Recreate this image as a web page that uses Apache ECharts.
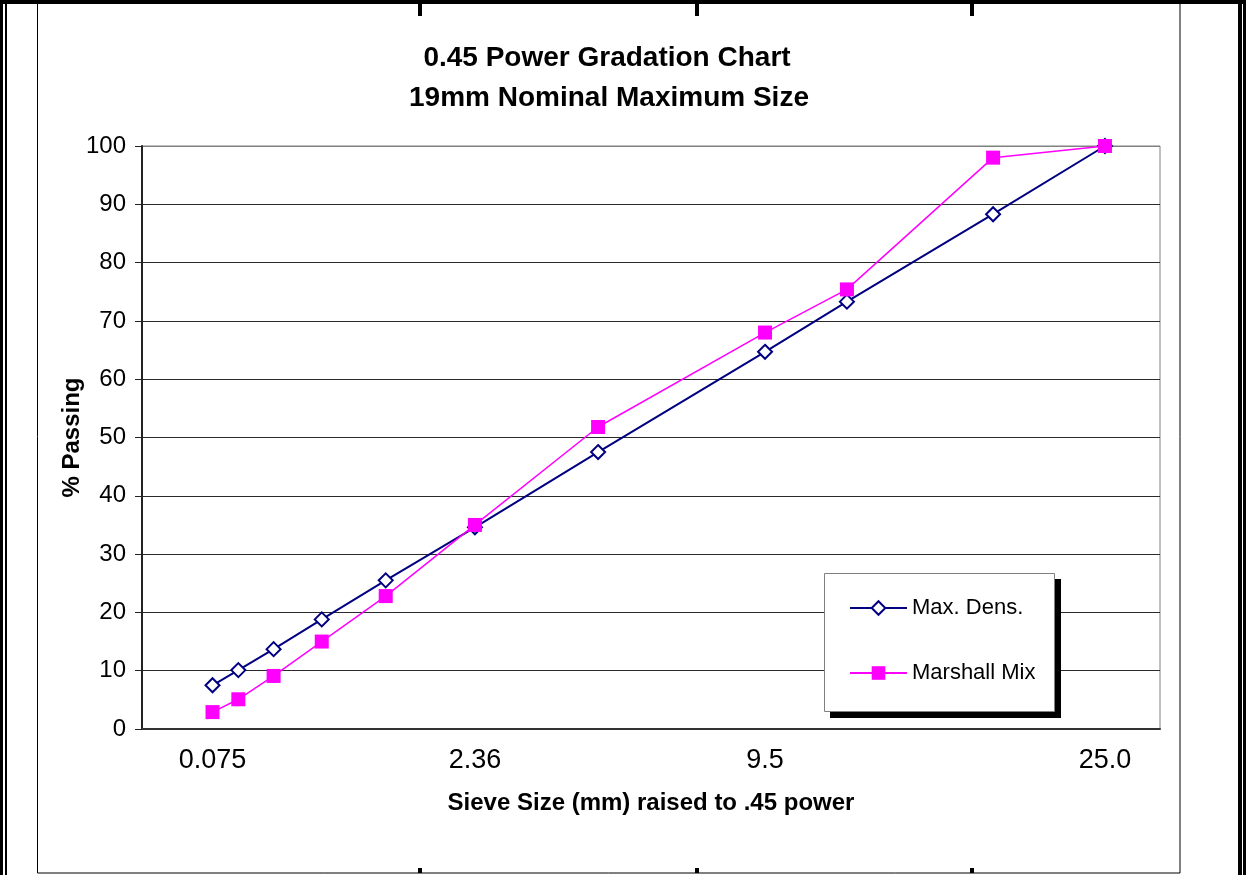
<!DOCTYPE html>
<html><head><meta charset="utf-8">
<script src="https://cdn.jsdelivr.net/npm/echarts@6/dist/echarts.min.js"></script>
<style>html,body{margin:0;padding:0;background:#fff}#c{width:1246px;height:875px}</style>
</head><body><div id="c"></div>
<script>
// ---- data ----
const sieveSizes = [0.075, 0.15, 0.3, 0.6, 1.18, 2.36, 4.75, 9.5, 12.5, 19, 25];
const maxDensity = [7.5, 10.1, 13.7, 18.8, 25.5, 34.6, 47.5, 64.7, 73.3, 88.3, 100];
const marshallMix = [2.9, 5.1, 9.1, 15.0, 22.8, 35.0, 51.8, 68.0, 75.4, 98.0, 100];
const xTickSizes = [0.075, 2.36, 9.5, 25];
const xTickLabels = ['0.075', '2.36', '9.5', '25.0'];
const seriesNames = ['Max. Dens.', 'Marshall Mix'];
const titleLines = ['0.45 Power Gradation Chart', '19mm Nominal Maximum Size'];
const xAxisTitle = 'Sieve Size (mm) raised to .45 power';
const yAxisTitle = '% Passing';
const POWER = 0.45;

// ---- build ----
const FONT = '"Liberation Sans", Arial, sans-serif';
const px = s => Math.pow(s, POWER);
const pairs = (vals) => sieveSizes.map((s, i) => [px(s), vals[i]]);
const tickPos = xTickSizes.map(px);
const labelFor = v => {
  let best = 0, bd = Infinity;
  tickPos.forEach((t, i) => { const d = Math.abs(t - v); if (d < bd) { bd = d; best = i; } });
  return xTickLabels[best];
};

const chart = echarts.init(document.getElementById('c'), null, {renderer: 'canvas'});
const gridColors = Array(10).fill('#2a2a2a').concat(['#808080']);

const frame = [
  {type: 'rect', shape: {x: 0, y: 0, width: 1246, height: 4}, style: {fill: '#000'}, z: 20},
  {type: 'rect', shape: {x: 0, y: 0, width: 3, height: 875}, style: {fill: '#000'}, z: 20},
  {type: 'rect', shape: {x: 5, y: 0, width: 2, height: 875}, style: {fill: '#000'}, z: 20},
  {type: 'rect', shape: {x: 1238, y: 0, width: 4, height: 875}, style: {fill: '#000'}, z: 20},
  {type: 'rect', shape: {x: 1243, y: 0, width: 3, height: 875}, style: {fill: '#000'}, z: 20},
  {type: 'rect', shape: {x: 37.5, y: 0, width: 1142.5, height: 873}, style: {fill: null, stroke: '#000', lineWidth: 1}, z: 20},
];
[418, 695, 970].forEach(x => {
  frame.push({type: 'rect', shape: {x: x, y: 4, width: 4, height: 12}, style: {fill: '#000'}, z: 20});
  frame.push({type: 'rect', shape: {x: x, y: 868, width: 4, height: 5}, style: {fill: '#000'}, z: 20});
});
frame.push({type: 'text', x: 607, y: 58, style: {text: titleLines[0], font: 'bold 28px ' + FONT, fill: '#000', textAlign: 'center', textVerticalAlign: 'middle'}, z: 20});
frame.push({type: 'text', x: 609, y: 98, style: {text: titleLines[1], font: 'bold 28px ' + FONT, fill: '#000', textAlign: 'center', textVerticalAlign: 'middle'}, z: 20});
// legend box with shadow
frame.push({type: 'rect', shape: {x: 830, y: 579, width: 231, height: 139}, style: {fill: '#000'}, z: 3});
frame.push({type: 'rect', shape: {x: 824.5, y: 573.5, width: 230, height: 138}, style: {fill: '#fff', stroke: '#808080', lineWidth: 1}, z: 4});

chart.setOption({
  animation: false,
  backgroundColor: '#fff',
  graphic: frame,
  grid: {left: 142, right: 86, top: 146, bottom: 146, show: true, borderColor: '#808080', borderWidth: 1, backgroundColor: 'transparent'},
  legend: {
    orient: 'vertical', left: 849, top: 595, padding: 0,
    itemWidth: 57, itemHeight: 17, itemGap: 39, selectedMode: false, z: 6,
    textStyle: {fontFamily: FONT, fontSize: 22, color: '#000', lineHeight: 26},
    data: seriesNames
  },
  xAxis: {
    type: 'value', min: 0, max: 4.5,
    name: xAxisTitle, nameLocation: 'middle', nameGap: 62, nameMoveOverlap: false,
    nameTextStyle: {fontFamily: FONT, fontSize: 24, fontWeight: 'bold', color: '#000'},
    axisLine: {show: true, onZero: false, lineStyle: {color: '#333', width: 2}},
    axisTick: {show: false},
    splitLine: {show: false},
    axisLabel: {
      customValues: tickPos, margin: 18,
      fontFamily: FONT, fontSize: 27, color: '#000',
      formatter: v => labelFor(v)
    }
  },
  yAxis: {
    type: 'value', min: 0, max: 100, interval: 10,
    name: yAxisTitle, nameLocation: 'middle', nameGap: 58, nameRotate: 90, nameMoveOverlap: false,
    nameTextStyle: {fontFamily: FONT, fontSize: 24, fontWeight: 'bold', color: '#000'},
    axisLine: {show: true, lineStyle: {color: '#222', width: 2}},
    axisTick: {show: true, inside: false, length: 7, lineStyle: {color: '#222', width: 1}},
    splitLine: {show: true, lineStyle: {color: gridColors, width: 1}},
    axisLabel: {margin: 16, fontFamily: FONT, fontSize: 24, color: '#000'}
  },
  series: [
    {
      name: seriesNames[0], type: 'line', data: pairs(maxDensity), clip: false,
      symbol: 'diamond', symbolSize: 14,
      lineStyle: {color: '#000080', width: 2},
      itemStyle: {color: '#fff', borderColor: '#000080', borderWidth: 2},
      z: 2
    },
    {
      name: seriesNames[1], type: 'line', data: pairs(marshallMix), clip: false,
      symbol: 'rect', symbolSize: 14,
      lineStyle: {color: '#ff00ff', width: 1.5},
      itemStyle: {color: '#ff00ff', borderWidth: 0},
      z: 3
    }
  ]
});
</script></body></html>
